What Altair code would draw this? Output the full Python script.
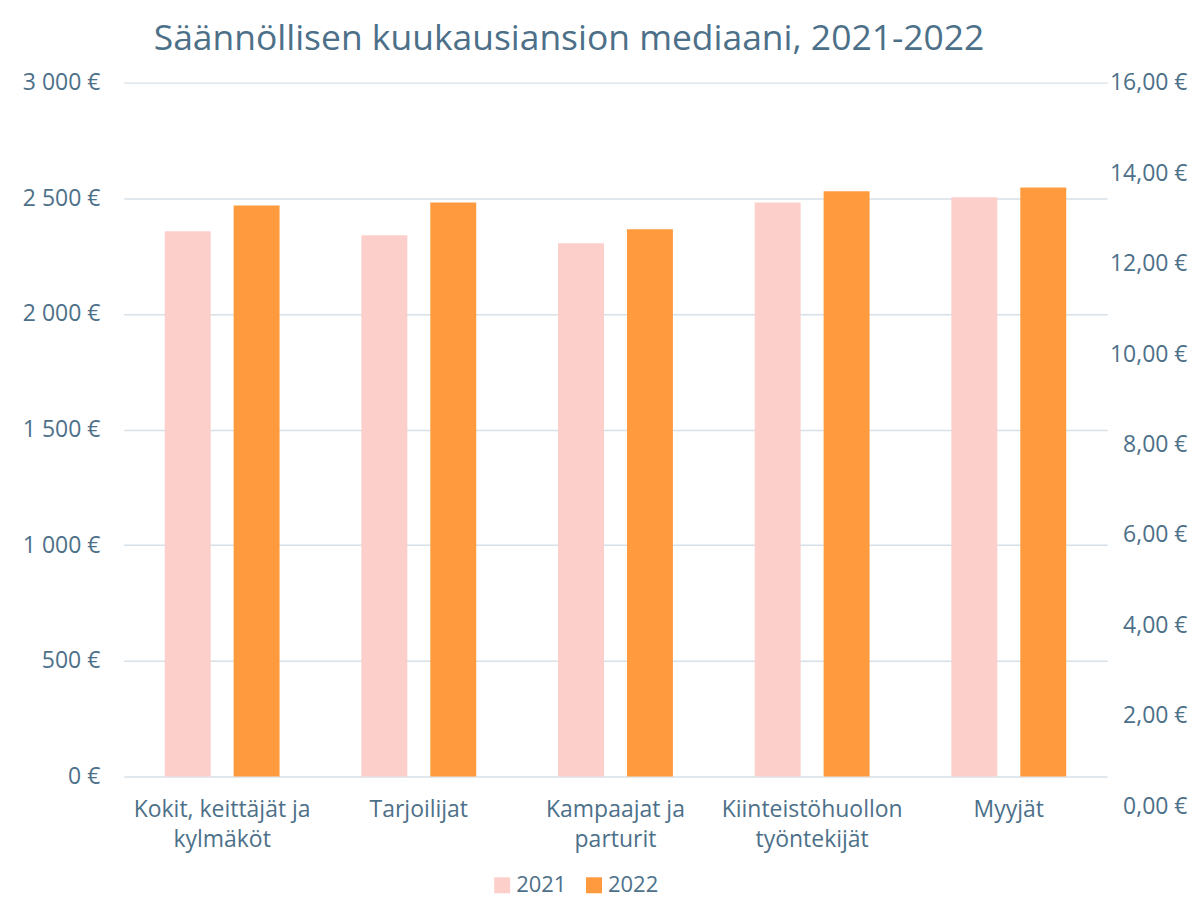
import altair as alt
import pandas as pd

categories = ["Kokit, keittäjät ja|kylmäköt", "Tarjoilijat", "Kampaajat ja|parturit",
              "Kiinteistöhuollon|työntekijät", "Myyjät"]
years = ["2021", "2022"]
values_2021 = [2357, 2340, 2305, 2482, 2504]
values_2022 = [2469, 2482, 2366, 2530, 2547]
left_ticks = [0, 500, 1000, 1500, 2000, 2500, 3000]
right_ticks = [0, 2, 4, 6, 8, 10, 12, 14, 16]
colors = ["#FCCFCB", "#FF9B3E"]

rows = []
for c, a, b in zip(categories, values_2021, values_2022):
    rows.append({"cat": c, "year": years[0], "value": a})
    rows.append({"cat": c, "year": years[1], "value": b})
df = pd.DataFrame(rows)
right_df = pd.DataFrame({"v": [right_ticks[0], right_ticks[-1]]})

TEXT = "#4D7089"
FONT = "Open Sans"

bars = alt.Chart(df).mark_bar().encode(
    x=alt.X("cat:N", sort=categories,
            scale=alt.Scale(paddingInner=0.416, paddingOuter=0.208),
            axis=alt.Axis(title=None, labelAngle=0, labelExpr="split(datum.label, '|')",
                          labelFontSize=23, labelColor=TEXT, labelPadding=22, domain=False,
                          ticks=False, labelLineHeight=30, labelFont=FONT, labelLimit=400)),
    xOffset=alt.XOffset("year:N", sort=years, scale=alt.Scale(paddingInner=1/3, paddingOuter=0)),
    y=alt.Y("value:Q", scale=alt.Scale(domain=[0, 3000], nice=False),
            axis=alt.Axis(values=left_ticks, title=None, domain=False, ticks=False, grid=True,
                          gridColor="#D6E0E8", gridWidth=1.5, labelPadding=24, labelFontSize=23,
                          labelColor=TEXT, labelFont=FONT,
                          labelExpr="replace(format(datum.value, ','), ',', ' ') + ' €'")),
    color=alt.Color("year:N", scale=alt.Scale(domain=years, range=colors),
                    legend=alt.Legend(title=None, orient="none", legendX=368, legendY=793,
                                      direction="horizontal", symbolType="square", symbolSize=256,
                                      symbolStrokeWidth=0, labelFontSize=22, labelColor=TEXT,
                                      labelFont=FONT, columnPadding=16, labelOffset=3)),
)

right = alt.Chart(right_df).mark_point(opacity=0).encode(
    y=alt.Y("v:Q", scale=alt.Scale(domain=[0, 16], range=[725, 0], nice=False),
            axis=alt.Axis(orient="right", values=right_ticks, title=None, grid=False, domain=False,
                          ticks=False, labelAlign="right", labelPadding=80, labelFontSize=23,
                          labelColor=TEXT, labelFont=FONT,
                          labelExpr="replace(format(datum.value, '.2f'), '.', ',') + ' €'")),
)

chart = alt.layer(bars, right).resolve_scale(y="independent").properties(
    width=985, height=695,
    autosize=alt.AutoSizeParams(type="pad"),
    padding={"left": 14, "top": 13, "right": 2, "bottom": 0},
    title=alt.TitleParams("Säännöllisen kuukausiansion mediaani, 2021-2022", fontSize=35.5,
                          color=TEXT, font=FONT, fontWeight="normal", anchor="start",
                          frame="group", dx=30, offset=14),
).configure_view(stroke=None)

chart.save("out.html", embed_options={"renderer": "svg", "actions": False})
